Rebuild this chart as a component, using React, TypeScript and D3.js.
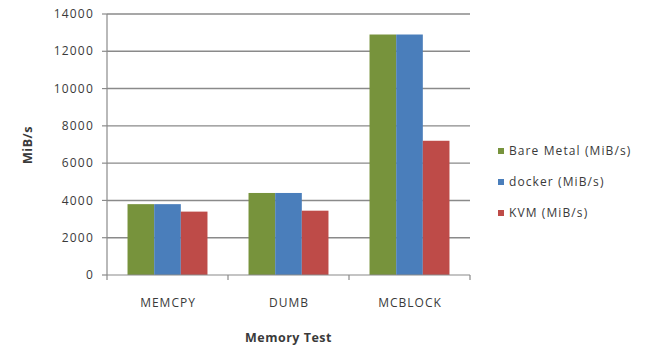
import React from "react";
import * as d3 from "d3";

const categories = ["MEMCPY", "DUMB", "MCBLOCK"];
const seriesNames = ["Bare Metal (MiB/s)", "docker (MiB/s)", "KVM (MiB/s)"];
const bareMetal = [3800, 4400, 12900];
const docker = [3800, 4400, 12900];
const kvm = [3400, 3450, 7200];
const yTicks = [0, 2000, 4000, 6000, 8000, 10000, 12000, 14000];
const colors = ["#77933C", "#4A7EBB", "#BE4B48"];

export default function App() {
  const W = 648, H = 346;
  const left = 107, right = 470, top = 14, bottom = 275;
  const series = [bareMetal, docker, kvm];
  const x = d3.scaleBand().domain(categories).range([left, right]).paddingInner(0).paddingOuter(0);
  const inner = d3.scaleBand().domain(seriesNames).range([0, x.bandwidth()]).paddingOuter(0.77).paddingInner(0);
  const y = d3.scaleLinear().domain([0, 14000]).range([bottom, top]);
  const font = "'Open Sans', 'Liberation Sans', sans-serif";
  const textColor = "#3a3a3a";
  const boundaries = [left, ...categories.map((c) => (x(c) as number) + x.bandwidth())];
  return (
    <svg width={W} height={H} style={{ position: "absolute", left: 0, top: 0, background: "#fff" }}>
      {yTicks.map((t) => (
        <g key={t}>
          {t > 0 && <line x1={left} x2={right} y1={y(t)} y2={y(t)} stroke="#8a8a8a" strokeWidth={1.4} />}
          <line x1={left - 5} x2={left} y1={y(t)} y2={y(t)} stroke="#8a8a8a" strokeWidth={1.2} />
          <text x={left - 13} y={y(t)} dy="0.35em" textAnchor="end" fontFamily={font} fontSize={12} fill={textColor} letterSpacing={1.2}>
            {t}
          </text>
        </g>
      ))}
      {series.map((vals, si) =>
        categories.map((c, ci) => (
          <rect
            key={si + "-" + ci}
            x={(x(c) as number) + (inner(seriesNames[si]) as number)}
            y={y(vals[ci])}
            width={inner.bandwidth()}
            height={bottom - y(vals[ci])}
            fill={colors[si]}
          />
        ))
      )}
      <line x1={left} x2={left} y1={top} y2={bottom} stroke="#8a8a8a" strokeWidth={1.2} />
      <line x1={left} x2={right} y1={bottom} y2={bottom} stroke="#8a8a8a" strokeWidth={1.2} />
      {boundaries.map((b, i) => (
        <line key={i} x1={b} x2={b} y1={bottom} y2={bottom + 5} stroke="#8a8a8a" strokeWidth={1.2} />
      ))}
      {categories.map((c) => (
        <text key={c} x={(x(c) as number) + x.bandwidth() / 2 + 0.5} y={307} textAnchor="middle" fontFamily={font} fontSize={12} fill={textColor} letterSpacing={1}>
          {c}
        </text>
      ))}
      <text x={(left + right) / 2} y={342} textAnchor="middle" fontFamily={font} fontSize={12.5} fontWeight="bold" fill={textColor} letterSpacing={0.5}>
        Memory Test
      </text>
      <text transform={`translate(32,145) rotate(-90)`} textAnchor="middle" fontFamily={font} fontSize={12.5} fontWeight="bold" fill={textColor} letterSpacing={0.5}>
        MiB/s
      </text>
      {seriesNames.map((s, i) => (
        <g key={s} transform={`translate(498,${151 + i * 31})`}>
          <rect x={0} y={-3} width={6} height={6} fill={colors[i]} />
          <text x={11} y={0} dy="0.35em" fontFamily={font} fontSize={12} fill={textColor} letterSpacing={1.1}>
            {s}
          </text>
        </g>
      ))}
    </svg>
  );
}
